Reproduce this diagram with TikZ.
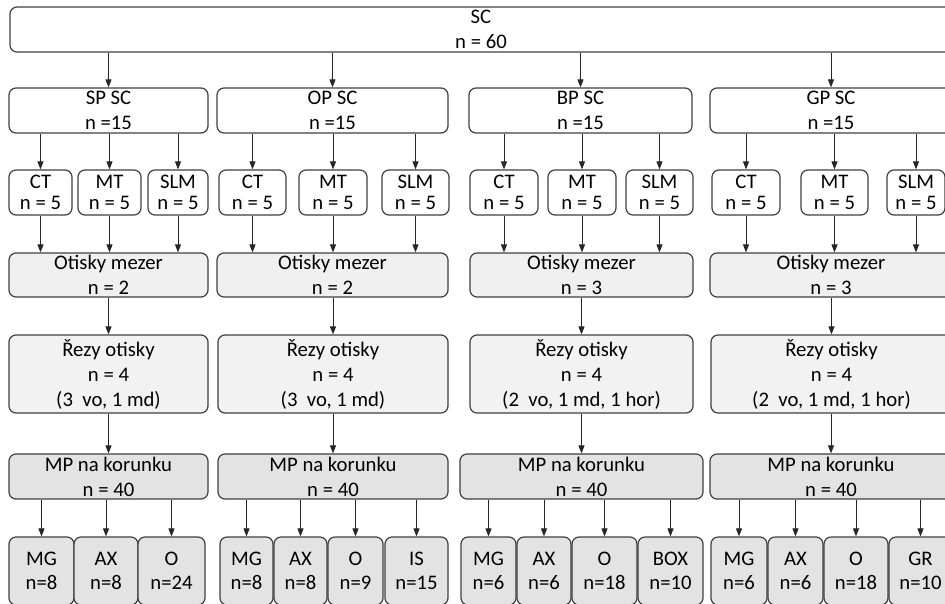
\documentclass[tikz,border=0pt]{standalone}
\usepackage{fontspec}
\setmainfont{Carlito}
\usetikzlibrary{arrows.meta}

\tikzset{
  box/.style={draw=black!75, line width=1.2pt, rounded corners=7pt, align=center, inner sep=0pt, font=\fontsize{20.7}{25}\selectfont},
  grp/.style={box, minimum height=45pt},
  tech/.style={box, minimum height=45pt, font=\fontsize{20.7}{21}\selectfont},
  gap/.style={box, fill=black!6, minimum height=44pt},
  cut/.style={box, fill=black!5, minimum height=78pt},
  mp/.style={box, fill=black!11, minimum height=45pt},
  leaf/.style={box, fill=black!11, minimum height=68pt, font=\fontsize{20.7}{24}\selectfont},
  arr/.style={-{Triangle[length=8pt,width=6pt]}, line width=0.9pt, draw=black!85},
}

\begin{document}
\begin{tikzpicture}[x=1pt, y=-1pt]
    \useasboundingbox (0,0) rectangle (945,603);
    \fill[white] (0,0) rectangle (945,603);
    \clip (0,0) rectangle (945,603);

    % Whole sample
    \node[grp, minimum width=942pt] (sc) at (481,29.5) {SC\\n = 60};

    % Groups
    \node[grp, minimum width=199pt] (sp) at (108.5,110.5) {SP SC\\n =15};
    \node[grp, minimum width=231pt] (op) at (332.5,110.5) {OP SC\\n =15};
    \node[grp, minimum width=223pt] (bp) at (580.5,110.5) {BP SC\\n =15};
    \node[grp, minimum width=242pt] (gp) at (831,110.5) {GP SC\\n =15};

    % Techniques
    \node[tech, minimum width=63pt] (ct1) at (40.5,192.5) {CT\\n = 5};
    \node[tech, minimum width=63pt] (mt1) at (109.5,192.5) {MT\\n = 5};
    \node[tech, minimum width=60pt] (slm1) at (178,192.5) {SLM\\n = 5};
    \node[tech, minimum width=67pt] (ct2) at (252.5,192.5) {CT\\n = 5};
    \node[tech, minimum width=68pt] (mt2) at (333,192.5) {MT\\n = 5};
    \node[tech, minimum width=67pt] (slm2) at (415.5,192.5) {SLM\\n = 5};
    \node[tech, minimum width=68pt] (ct3) at (504,192.5) {CT\\n = 5};
    \node[tech, minimum width=68pt] (mt3) at (582,192.5) {MT\\n = 5};
    \node[tech, minimum width=67pt] (slm3) at (659.5,192.5) {SLM\\n = 5};
    \node[tech, minimum width=68pt] (ct4) at (746,192.5) {CT\\n = 5};
    \node[tech, minimum width=67pt] (mt4) at (834.5,192.5) {MT\\n = 5};
    \node[tech, minimum width=58pt] (slm4) at (916,192.5) {SLM\\n = 5};

    % Gap impressions
    \node[gap, minimum width=199pt] (gap1) at (108.5,275) {Otisky mezer\\n = 2};
    \node[gap, minimum width=231pt] (gap2) at (332.5,275) {Otisky mezer\\n = 2};
    \node[gap, minimum width=223pt] (gap3) at (581.5,275) {Otisky mezer\\n = 3};
    \node[gap, minimum width=242pt] (gap4) at (831,275) {Otisky mezer\\n = 3};

    % Sections
    \node[cut, minimum width=199pt] (cut1) at (108.5,374) {Řezy otisky\\n = 4\\(3~ vo, 1 md)};
    \node[cut, minimum width=230pt] (cut2) at (333,374) {Řezy otisky\\n = 4\\(3~ vo, 1 md)};
    \node[cut, minimum width=223pt] (cut3) at (581.5,374) {Řezy otisky\\n = 4\\(2~ vo, 1 md, 1 hor)};
    \node[cut, minimum width=241pt] (cut4) at (831.5,374) {Řezy otisky\\n = 4\\(2~ vo, 1 md, 1 hor)};

    % Marginal gaps
    \node[mp, minimum width=199pt] (mp1) at (108.5,476.5) {MP na korunku\\n = 40};
    \node[mp, minimum width=230pt] (mp2) at (333,476.5) {MP na korunku\\n = 40};
    \node[mp, minimum width=243pt] (mp3) at (581.5,476.5) {MP na korunku\\n = 40};
    \node[mp, minimum width=242pt] (mp4) at (831,476.5) {MP na korunku\\n = 40};

    % Methods
    \node[leaf, minimum width=65pt] (mg1) at (41.5,571) {MG\\n=8};
    \node[leaf, minimum width=64pt] (ax1) at (106,571) {AX\\n=8};
    \node[leaf, minimum width=67pt] (o1) at (171.5,571) {O\\n=24};
    \node[leaf, minimum width=53pt] (mg2) at (246.5,571) {MG\\n=8};
    \node[leaf, minimum width=53pt] (ax2) at (300.5,571) {AX\\n=8};
    \node[leaf, minimum width=55pt] (o2) at (355.5,571) {O\\n=9};
    \node[leaf, minimum width=63pt] (is2) at (416.5,571) {IS\\n=15};
    \node[leaf, minimum width=55pt] (mg3) at (488.5,571) {MG\\n=6};
    \node[leaf, minimum width=54pt] (ax3) at (544,571) {AX\\n=6};
    \node[leaf, minimum width=65pt] (o3) at (604.5,571) {O\\n=18};
    \node[leaf, minimum width=65pt] (box3) at (670.5,571) {BOX\\n=10};
    \node[leaf, minimum width=56pt] (mg4) at (739,571) {MG\\n=6};
    \node[leaf, minimum width=55pt] (ax4) at (795.5,571) {AX\\n=6};
    \node[leaf, minimum width=64pt] (o4) at (856,571) {O\\n=18};
    \node[leaf, minimum width=63pt] (gr4) at (920.5,571) {GR\\n=10};

    % Arrows
    \foreach \i/\g in {1/sp,2/op,3/bp,4/gp} {
        \draw[arr] (\g.north |- sc.south) -- (\g.north);
        \foreach \t in {ct,mt,slm} {
            \draw[arr] (\t\i.north |- \g.south) -- (\t\i.north);
            \draw[arr] (\t\i.south) -- (\t\i.south |- gap\i.north);
        }
        \draw[arr] (cut\i.north |- gap\i.south) -- (cut\i.north);
        \draw[arr] (mp\i.north |- cut\i.south) -- (mp\i.north);
    }
    \foreach \n/\i in {mg1/1,ax1/1,o1/1,mg2/2,ax2/2,o2/2,is2/2,mg3/3,ax3/3,o3/3,box3/3,mg4/4,ax4/4,o4/4,gr4/4}
        \draw[arr] (\n.north |- mp\i.south) -- (\n.north);
\end{tikzpicture}
\end{document}
